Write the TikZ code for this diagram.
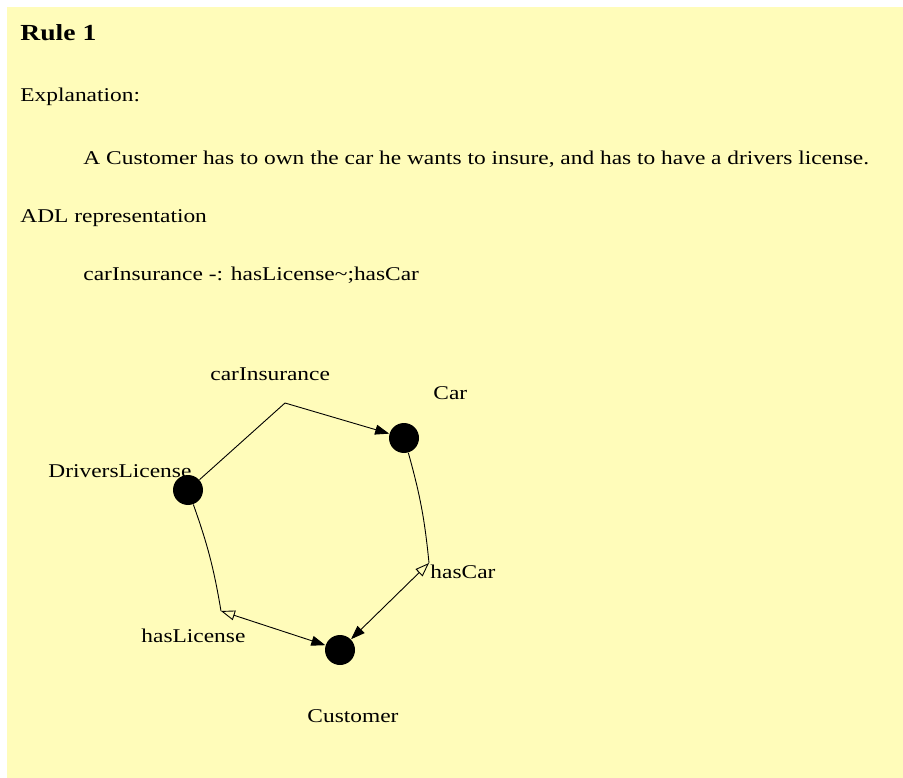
\documentclass[tikz,border=0pt]{standalone}
\usepackage{fontspec}
\setmainfont[FakeStretch=1.2]{Liberation Serif}
\usetikzlibrary{arrows.meta}
\definecolor{pagebg}{RGB}{255,252,186}

\begin{document}
\begin{tikzpicture}[x=1pt,y=-1pt,line width=0.9pt]
        \tikzstyle{every node}+=[inner sep=0pt]
        \tikzstyle{txt}=[anchor=base west,font=\fontsize{19.5}{23}\selectfont]
        \tikzstyle{dot}=[circle,fill=black,minimum size=30pt]
        \tikzstyle{tip}=[-{Triangle[length=14pt,width=10pt]}]
        \tikzstyle{both}=[{Triangle[open,length=14pt,width=10pt]}-{Triangle[length=14pt,width=10pt]}]
        % page
        \fill [white] (0,0) rectangle (903,778);
        \fill [pagebg] (7,7) rectangle (903,778);
        \useasboundingbox (0,0) rectangle (903,778);
        % text
        \node [txt,font=\fontsize{23}{27}\selectfont\bfseries] (title) at (20,41) {Rule 1};
        \node [txt] (expl) at (20,102) {Explanation:};
        \node [txt] (sent) at (83,165) {A Customer has to own the car he wants to insure, and has to have a drivers license.};
        \node [txt] (adl) at (20,223) {ADL representation};
        \node [txt] (rule) at (83,281) {carInsurance -: hasLicense\textasciitilde;hasCar};
        % concepts
        \node [dot] (dl) at (188,490) {};
        \node [dot] (car) at (404,438) {};
        \node [dot] (cust) at (340,650) {};
        \node [txt] (dllbl) at (48,477) {DriversLicense};
        \node [txt] (carlbl) at (433,399) {Car};
        \node [txt] (custlbl) at (307,722) {Customer};
        % relations
        \coordinate (ins) at (285,403);
        \coordinate (hc) at (429,563);
        \coordinate (hl) at (221,611);
        \node [txt] (inslbl) at (210,381) {carInsurance};
        \node [txt] (hclbl) at (430,578) {hasCar};
        \node [txt] (hllbl) at (141,642) {hasLicense};
        \draw (dl) -- (ins);
        \draw [tip] (ins) -- (car);
        \draw (car) to[bend left=5] (hc);
        \draw [both] (hc) -- (cust);
        \draw (dl) to[bend left=5] (hl);
        \draw [both] (hl) -- (cust);
\end{tikzpicture}
\end{document}
